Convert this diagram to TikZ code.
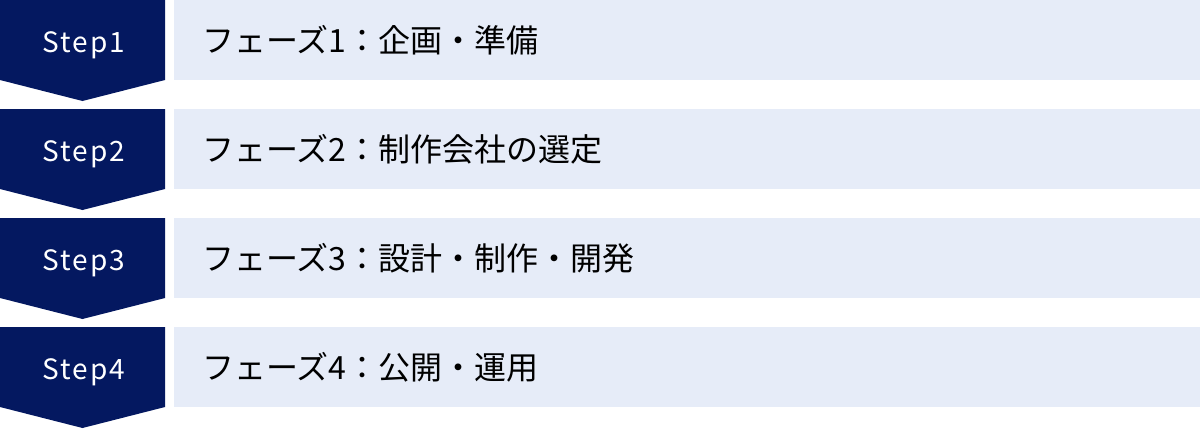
\documentclass[tikz,border=0pt]{standalone}
\usepackage{fontspec}
\setmainfont{Noto Sans CJK JP}
\definecolor{stepnavy}{RGB}{4,24,96}
\definecolor{phasebg}{RGB}{230,236,248}
\tikzset{
  steplabel/.style={text=white,inner sep=0pt,
    font=\fontsize{28}{28}\selectfont\addfontfeature{LetterSpace=7}},
  phaselabel/.style={anchor=west,inner sep=0pt,font=\fontsize{32}{32}\selectfont},
}
\begin{document}
\begin{tikzpicture}[x=1pt,y=-1pt]
  \useasboundingbox (0,0) rectangle (1200,429);
  \foreach \i/\txt in {1/{フェーズ1：企画・準備},2/{フェーズ2：制作会社の選定},
                       3/{フェーズ3：設計・制作・開発},4/{フェーズ4：公開・運用}}{
    \pgfmathsetmacro\rowtop{(\i-1)*109}
    \fill[stepnavy] (0,\rowtop) -- (165,\rowtop) -- (165,\rowtop+80)
      -- (82.5,\rowtop+101) -- (0,\rowtop+80) -- cycle;
    \fill[phasebg] (174,\rowtop) rectangle (1200,\rowtop+79.5);
    \node[steplabel,anchor=base] (step\i) at (84,\rowtop+52) {Step\i};
    \node[phaselabel] (phase\i) at (202,\rowtop+40) {\txt};
  }
\end{tikzpicture}
\end{document}
